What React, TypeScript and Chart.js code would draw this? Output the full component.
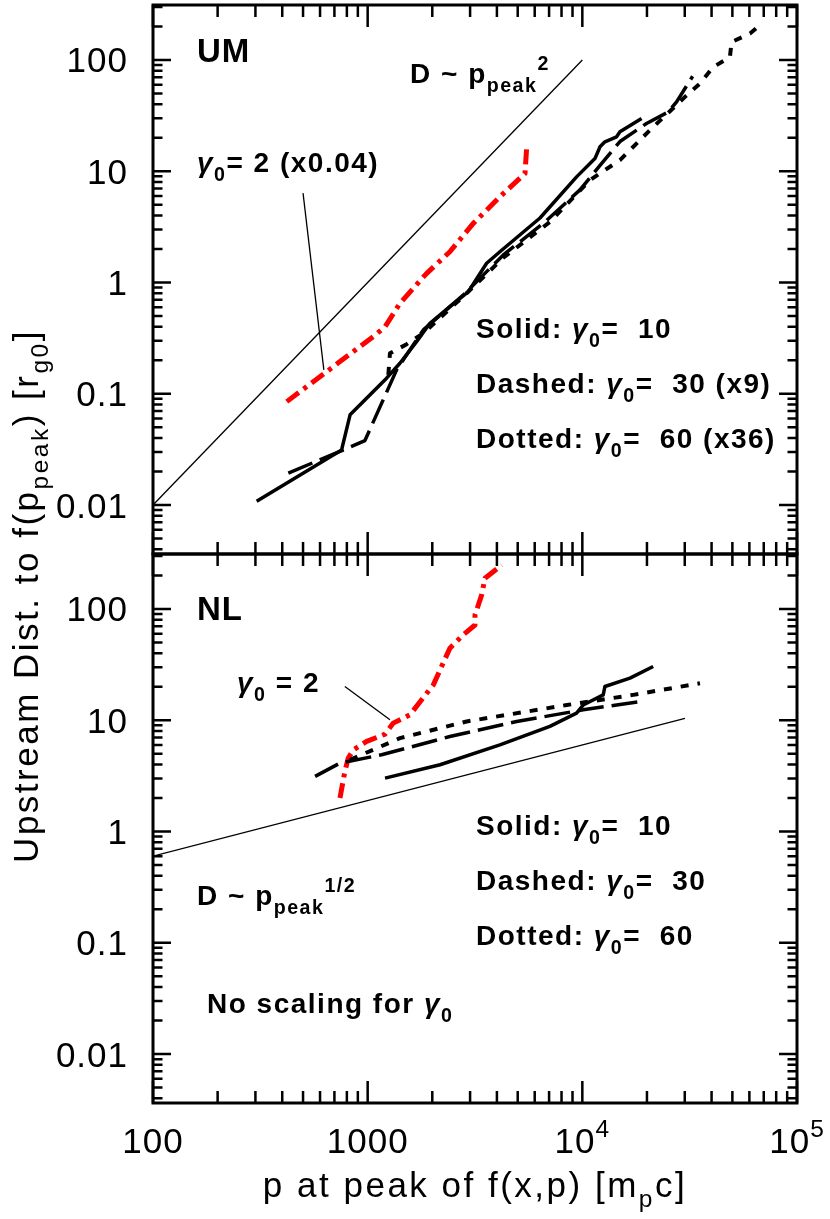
import React, { useEffect, useRef } from "react";
import { Chart, registerables } from "chart.js";

Chart.register(...registerables);

const W = 830;
const H = 1219;
const FONT = "'Liberation Sans', Arial, Helvetica, sans-serif";

// axis ranges
const X_MIN = 100;
const X_MAX = 100000;
const Y_MIN = 0.00363;
const Y_MAX = 312;

const xTickValues = [100, 1000, 10000, 100000];
const xTickLabels = ["100", "1000", "10^4", "10^5"];
const yTickValues = [0.01, 0.1, 1, 10, 100];
const yTickLabels = ["0.01", "0.1", "1", "10", "100"];

// ---------- UM panel (top) ----------
const umSolidP = [304, 756, 828, 1225, 1413, 1690, 1950, 2415, 2944, 3582, 4130, 6350, 9400, 11450, 12090, 12740, 14440, 14970, 18880];
const umSolidD = [0.0108, 0.0313, 0.0647, 0.138, 0.188, 0.294, 0.43, 0.607, 0.826, 1.49, 1.89, 3.8, 8.9, 13.0, 16.6, 18.4, 20.4, 22.6, 29.8];

const umDashP = [427, 743, 971, 1364, 1817, 2786, 4285, 6700, 9750, 12090, 14970, 19910, 25130, 27480, 32650];
const umDashD = [0.0194, 0.0303, 0.038, 0.164, 0.375, 0.77, 1.77, 3.5, 6.8, 11.3, 18.5, 26.9, 34.1, 42, 71.4];

const umDotP = [1248, 1270, 1520, 1817, 2890, 4270, 7060, 10830, 14970, 20650, 30070, 35320, 40740, 48700, 49540, 60400, 68400];
const umDotD = [0.148, 0.231, 0.279, 0.35, 0.8, 1.66, 3.5, 8.3, 12.6, 23.4, 46.6, 61.4, 86.5, 106, 145, 173, 212];

const umRedP = [420, 644, 1061, 1205, 1413, 1884, 2415, 3104, 4130, 5406, 5500];
const umRedD = [0.085, 0.158, 0.326, 0.4, 0.65, 1.21, 1.89, 3.4, 5.89, 9.55, 16.0];

const umRefP = [100, 10000];
const umRefD = [0.01, 100];

const umLeaderP = [500, 625];
const umLeaderD = [6.36, 0.164];

// ---------- NL panel (bottom) ----------
const nlSolidP = [1205, 2173, 4130, 7060, 9400, 10090, 12510, 12740, 16670, 21380];
const nlSolidD = [3.02, 3.98, 6.0, 8.8, 11.6, 13.7, 16.9, 20.1, 23.9, 30.4];

const nlDashP = [569, 743, 1161, 2415, 4945, 10090, 18880];
const nlDashD = [3.13, 4.12, 4.89, 7.14, 9.75, 12.4, 14.8];

const nlDotP = [828, 1413, 2890, 8460, 17250, 35320];
const nlDotD = [4.41, 6.9, 9.75, 13.7, 16.9, 21.5];

const nlRedP = [743, 783, 812, 858, 989, 1205, 1315, 1574, 2022, 2415, 2786, 3162, 3162, 3397, 3518, 4207];
const nlRedD = [2.0, 3.47, 4.57, 5.42, 6.45, 7.5, 9.42, 11.2, 20.8, 44.4, 58.5, 71.8, 88.3, 134, 189, 248];

const nlRefP = [100, 30070];
const nlRefD = [0.6, 10.4];

const nlLeaderP = [783, 1270];
const nlLeaderD = [20.1, 10.1];

// ---------- helpers ----------
type Seg = { t: string; k?: "sub" | "sup" | "g" };

function drawRich(
  ctx: CanvasRenderingContext2D,
  segs: Seg[],
  x: number,
  y: number,
  size: number,
  weight: string,
  spacing: number,
  align: "left" | "center" | "right" = "left",
  subOff = 0.32
) {
  const fontFor = (s: Seg) => {
    const sz = s.k === "sub" || s.k === "sup" ? size * 0.7 : size;
    const st = s.k === "g" ? "italic " : "";
    return `${st}${weight} ${sz}px ${FONT}`;
  };
  (ctx as any).letterSpacing = spacing + "px";
  let total = 0;
  for (const s of segs) {
    ctx.font = fontFor(s);
    total += ctx.measureText(s.t).width;
  }
  let cx = align === "center" ? x - total / 2 : align === "right" ? x - total : x;
  ctx.textAlign = "left";
  ctx.textBaseline = "alphabetic";
  for (const s of segs) {
    ctx.font = fontFor(s);
    const dy = s.k === "sub" ? size * subOff : s.k === "sup" ? -size * 0.46 : 0;
    ctx.fillText(s.t, cx, y + dy);
    cx += ctx.measureText(s.t).width;
  }
  (ctx as any).letterSpacing = "0px";
}

function minorTicks(min: number, max: number) {
  const out: number[] = [];
  for (let e = Math.floor(Math.log10(min)); e <= Math.ceil(Math.log10(max)); e++) {
    for (let k = 2; k <= 9; k++) {
      const v = k * Math.pow(10, e);
      if (v >= min && v <= max) out.push(v);
    }
  }
  return out;
}

function drawFrame(chart: any, withXLabels: boolean) {
  const { ctx, chartArea: a, scales } = chart;
  const xs = scales.x;
  const ys = scales.y;
  ctx.save();
  ctx.strokeStyle = "#000";
  ctx.fillStyle = "#000";
  ctx.lineCap = "butt";
  ctx.lineWidth = 2.5;
  const xMin = minorTicks(X_MIN, X_MAX);
  const yMin = minorTicks(Y_MIN, Y_MAX);
  const tickX = (v: number, len: number) => {
    const px = xs.getPixelForValue(v);
    ctx.beginPath();
    ctx.moveTo(px, a.bottom);
    ctx.lineTo(px, a.bottom - len);
    ctx.moveTo(px, a.top);
    ctx.lineTo(px, a.top + len);
    ctx.stroke();
  };
  const tickY = (v: number, len: number) => {
    const py = ys.getPixelForValue(v);
    if (py < a.top - 0.5 || py > a.bottom + 0.5) return;
    ctx.beginPath();
    ctx.moveTo(a.left, py);
    ctx.lineTo(a.left + len, py);
    ctx.moveTo(a.right, py);
    ctx.lineTo(a.right - len, py);
    ctx.stroke();
  };
  xTickValues.forEach((v) => tickX(v, 22));
  xMin.forEach((v) => tickX(v, 12));
  yTickValues.forEach((v) => tickY(v, 18));
  yMin.forEach((v) => tickY(v, 9.5));
  ctx.lineWidth = 3;
  ctx.strokeRect(a.left, a.top, a.right - a.left, a.bottom - a.top);

  // y tick labels
  yTickValues.forEach((v, i) => {
    const py = ys.getPixelForValue(v);
    drawRich(ctx, [{ t: yTickLabels[i] }], a.left - 25, py + 12.5, 35, "normal", 1, "right");
  });

  if (withXLabels) {
    xTickValues.forEach((v, i) => {
      const px = xs.getPixelForValue(v);
      const [base, exp] = xTickLabels[i].split("^");
      const segs: Seg[] = [{ t: base }];
      if (exp) segs.push({ t: exp, k: "sup" });
      drawRich(ctx, segs, px, a.bottom + 50, 35, "normal", 1, "center");
    });
  }
  ctx.restore();
}

type Style = { color: string; width: number; dash: number[] };
const SOLID: Style = { color: "#000", width: 3.5, dash: [] };
const DASHED: Style = { color: "#000", width: 3.5, dash: [26, 8] };
const DOTTED: Style = { color: "#000", width: 4, dash: [8, 9] };
const RED: Style = { color: "#ff0000", width: 5, dash: [15, 6, 4, 6] };
const THIN: Style = { color: "#000", width: 1.3, dash: [] };

function series(p: number[], d: number[], s: Style) {
  return {
    data: p.map((x, i) => ({ x, y: d[i] })),
    showLine: true,
    pointRadius: 0,
    borderColor: s.color,
    backgroundColor: s.color,
    borderWidth: s.width,
    borderDash: s.dash,
    borderCapStyle: "butt",
    borderJoinStyle: "round",
    tension: 0,
    fill: false,
  };
}

function makeConfig(datasets: any[], padTop: number, padBottom: number, annot: (ctx: CanvasRenderingContext2D) => void, withXLabels: boolean) {
  return {
    type: "scatter",
    data: { datasets },
    options: {
      responsive: false,
      maintainAspectRatio: false,
      devicePixelRatio: 1,
      animation: false,
      events: [],
      layout: { padding: { left: 153, right: 33, top: padTop, bottom: padBottom } },
      scales: {
        x: { type: "logarithmic", min: X_MIN, max: X_MAX, display: false, bounds: "data" },
        y: { type: "logarithmic", min: Y_MIN, max: Y_MAX, display: false, bounds: "data" },
      },
      plugins: { legend: { display: false }, tooltip: { enabled: false } },
    },
    plugins: [
      {
        id: "frame",
        afterDraw(chart: any) {
          drawFrame(chart, withXLabels);
          const ctx = chart.ctx;
          ctx.save();
          ctx.fillStyle = "#000";
          annot(ctx);
          ctx.restore();
        },
      },
    ],
  };
}

const G = (sub: string): Seg[] => [{ t: "γ", k: "g" }, { t: sub, k: "sub" }];

export default function App() {
  const topRef = useRef<HTMLCanvasElement>(null);
  const botRef = useRef<HTMLCanvasElement>(null);

  useEffect(() => {
    const topDatasets = [
      series(umRefP, umRefD, THIN),
      series(umLeaderP, umLeaderD, THIN),
      series(umSolidP, umSolidD, SOLID),
      series(umDashP, umDashD, DASHED),
      series(umDotP, umDotD, DOTTED),
      series(umRedP, umRedD, RED),
    ];
    const botDatasets = [
      series(nlRefP, nlRefD, THIN),
      series(nlLeaderP, nlLeaderD, THIN),
      series(nlSolidP, nlSolidD, SOLID),
      series(nlDashP, nlDashD, DASHED),
      series(nlDotP, nlDotD, DOTTED),
      series(nlRedP, nlRedD, RED),
    ];

    const topAnnot = (ctx: CanvasRenderingContext2D) => {
      drawRich(ctx, [{ t: "UM" }], 197, 62, 33, "bold", 1);
      drawRich(ctx, [{ t: "D ~ p" }, { t: "peak", k: "sub" }, { t: "2", k: "sup" }], 410, 83, 28, "bold", 1.5);
      drawRich(ctx, [...G("0"), { t: "= 2 (x0.04)" }], 197, 172, 28, "bold", 1.5);
      drawRich(ctx, [{ t: "Solid: " }, ...G("0"), { t: "=  10" }], 476, 338, 28, "bold", 1.5);
      drawRich(ctx, [{ t: "Dashed: " }, ...G("0"), { t: "=  30 (x9)" }], 476, 393, 28, "bold", 1.5);
      drawRich(ctx, [{ t: "Dotted: " }, ...G("0"), { t: "=  60 (x36)" }], 476, 448, 28, "bold", 1.5);
    };
    const botAnnot = (ctx: CanvasRenderingContext2D) => {
      drawRich(ctx, [{ t: "NL" }], 197, 620, 33, "bold", 1);
      drawRich(ctx, [...G("0"), { t: " = 2" }], 237, 692, 28, "bold", 1.5);
      drawRich(ctx, [{ t: "D ~ p" }, { t: "peak", k: "sub" }, { t: "1/2", k: "sup" }], 197, 905, 28, "bold", 1.5);
      drawRich(ctx, [{ t: "Solid: " }, ...G("0"), { t: "=  10" }], 476, 835, 28, "bold", 1.5);
      drawRich(ctx, [{ t: "Dashed: " }, ...G("0"), { t: "=  30" }], 476, 890, 28, "bold", 1.5);
      drawRich(ctx, [{ t: "Dotted: " }, ...G("0"), { t: "=  60" }], 476, 945, 28, "bold", 1.5);
      drawRich(ctx, [{ t: "No scaling for " }, ...G("0")], 207, 1013, 28, "bold", 1.5);
      // x-axis title
      drawRich(ctx, [{ t: "p at peak of f(x,p) [m" }, { t: "p", k: "sub" }, { t: "c]" }], 475, 1197, 35, "normal", 2.5, "center", 0.28);
      // y-axis title
      ctx.save();
      ctx.translate(38, 596);
      ctx.rotate(-Math.PI / 2);
      drawRich(
        ctx,
        [{ t: "Upstream Dist. to f(p" }, { t: "peak", k: "sub" }, { t: ") [r" }, { t: "g0", k: "sub" }, { t: "]" }],
        0,
        0,
        35,
        "normal",
        2.5,
        "center",
        0.28
      );
      ctx.restore();
    };

    const c1 = new Chart(topRef.current as any, makeConfig(topDatasets, 5, H - 554, topAnnot, false) as any);
    const c2 = new Chart(botRef.current as any, makeConfig(botDatasets, 554, H - 1103, botAnnot, true) as any);
    return () => {
      c1.destroy();
      c2.destroy();
    };
  }, []);

  const cs: React.CSSProperties = { position: "absolute", left: 0, top: 0, width: W, height: H };
  return (
    <div style={{ position: "absolute", left: 0, top: 0, width: W, height: H, background: "#fff", overflow: "hidden" }}>
      <canvas ref={topRef} width={W} height={H} style={cs} />
      <canvas ref={botRef} width={W} height={H} style={cs} />
    </div>
  );
}
